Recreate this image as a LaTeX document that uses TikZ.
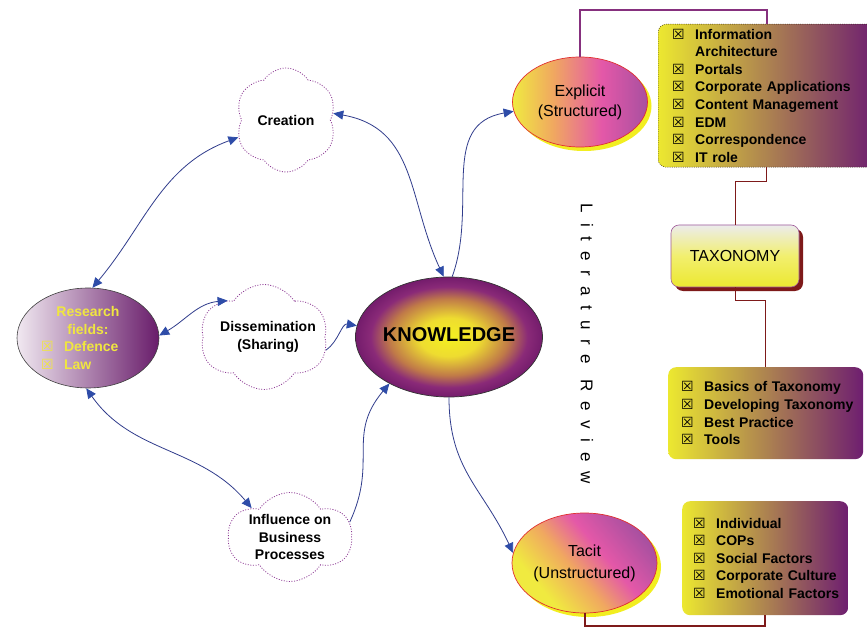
\documentclass[tikz,border=0pt]{standalone}
\usepackage{fontspec}
\setmainfont{Liberation Sans}
\newfontfamily\symf{DejaVu Sans}
\usetikzlibrary{shapes.geometric,shapes.symbols,arrows.meta,shadows,calc}
\definecolor{ylw}{HTML}{ECE830}
\definecolor{prp}{HTML}{6E1E70}
\definecolor{shy}{HTML}{F2EE20}
\definecolor{redb}{HTML}{E03030}
\definecolor{pline}{HTML}{86307E}
\definecolor{rline}{HTML}{7E1A1A}
\definecolor{ablue}{HTML}{2E4CA8}
\definecolor{lblue}{HTML}{303C8C}
\definecolor{cloudc}{HTML}{8E3C96}
\definecolor{ryel}{HTML}{F0E640}
\definecolor{ex1}{HTML}{F0EA40}
\definecolor{ex2}{HTML}{F0A860}
\definecolor{ex3}{HTML}{E458A8}
\definecolor{ex4}{HTML}{A850A0}
\definecolor{kn1}{HTML}{F4F020}
\definecolor{kn2}{HTML}{EEDC30}
\definecolor{kn3}{HTML}{C07A48}
\definecolor{kn4}{HTML}{8A2A78}
\definecolor{kn5}{HTML}{741C6C}
\pgfdeclarehorizontalshading{explsh}{100bp}{color(0bp)=(ex1); color(25bp)=(ex1); color(40bp)=(ex2); color(58bp)=(ex3); color(75bp)=(ex4); color(100bp)=(ex4)}
\pgfdeclarehorizontalshading{tacsh}{100bp}{color(0bp)=(ex1); color(30bp)=(ex1); color(45bp)=(ex2); color(58bp)=(ex3); color(75bp)=(ex4); color(100bp)=(ex4)}
\pgfdeclareradialshading{knowsh}{\pgfpoint{0bp}{0bp}}{color(0bp)=(kn1); color(8bp)=(kn2); color(16bp)=(kn3); color(21bp)=(kn4); color(25bp)=(kn5); color(50bp)=(kn5)}
\newcommand{\bx}{\makebox[23pt][l]{\symf\fontsize{14}{14}\selectfont ☒}}
\newcommand{\li}[1]{\mbox{\bx #1}}
\begin{document}
\begin{tikzpicture}[x=1pt,y=-1pt,
  listfont/.style={font=\fontsize{14}{17.6}\selectfont\bfseries},
  gradbox/.style={rounded corners=8pt, left color=ylw, right color=prp, inner sep=0pt, anchor=north west, listfont, align=left},
  ellnode/.style={ellipse, inner sep=0pt, draw=redb, line width=0.7pt, general shadow={shadow xshift=4pt, shadow yshift=-4pt, fill=shy}, align=center, font=\fontsize{16}{20}\selectfont},
  cloudnode/.style={cloud, cloud puffs=6, cloud puff arc=115, aspect=1, inner sep=0pt, draw=cloudc, dash pattern=on 1pt off 1.6pt, line width=0.8pt, fill=white},
  arr/.style={draw=lblue, line width=0.8pt, -{Triangle[length=10pt,width=9pt,color=ablue]}},
  barr/.style={draw=lblue, line width=0.8pt, {Triangle[length=10pt,width=9pt,color=ablue]}-{Triangle[length=10pt,width=9pt,color=ablue]}},
  pl/.style={draw=pline, line width=2pt},
  rl/.style={draw=rline, line width=1pt},
  tl/.style={draw=rline, line width=2pt}]
\useasboundingbox[fill=white] (0,0) rectangle (867,628);

\node[ellnode, minimum width=135pt, minimum height=90pt, shading=explsh] (expl) at (580,102) {Explicit\\(Structured)};
\node[ellnode, minimum width=145pt, minimum height=100pt, shading=tacsh, shading angle=40, font=\fontsize{16}{22}\selectfont] (tacit) at (584.5,563) {Tacit\\(Unstructured)};

\node[gradbox, draw=black!75!brown, dash pattern=on 1pt off 1.2pt, minimum width=217pt, minimum height=143pt, text width=189pt, inner xsep=14pt] (info) at (658,24)
 {\li{Information}\\\mbox{\hspace*{23pt}Architecture}\\\li{Portals}\\\li{Corporate Applications}\\\li{Content Management}\\\li{EDM}\\\li{Correspondence}\\\li{IT role}};

\node[rounded corners=8pt, minimum width=128pt, minimum height=62pt, top color=white!85!gray, bottom color=ylw, middle color=ylw!70!white, draw=pline!80, line width=0.6pt, general shadow={shadow xshift=4pt, shadow yshift=-4pt, fill=rline}, font=\fontsize{16}{20}\selectfont] (tax) at (735,256) {TAXONOMY};

\node[gradbox, minimum width=195pt, minimum height=92pt, text width=169pt, inner xsep=13pt] (basics) at (668,367)
 {\li{Basics of Taxonomy}\\\li{Developing Taxonomy}\\\li{Best Practice}\\\li{Tools}};

\node[gradbox, minimum width=166pt, minimum height=114pt, text width=144pt, inner xsep=11pt] (tb) at (682,501)
 {\li{Individual}\\\li{COPs}\\\li{Social Factors}\\\li{Corporate Culture}\\\li{Emotional Factors}};

\draw[pl] (expl.north) -- ++(0,-47) -| (info.north);
\draw[rl] (info.south) -- ++(0,14) -| (tax.north);
\draw[rl] (tax.south) -- ++(0,13) -| (basics.north);
\draw[tl] (tacit.south) -- ++(0,13) -| (tb.south);

\node[ellipse, inner sep=0pt, minimum width=142pt, minimum height=100pt, left color=white!90!prp, right color=prp!95!black, draw=black!75, line width=0.6pt, text=ryel, align=center, font=\fontsize{14}{17.5}\selectfont\bfseries] (res) at (88,338)
 {Research\\fields:\\\makebox[94pt][l]{\bx Defence}\\\makebox[94pt][l]{\bx Law}};

\node[ellipse, inner sep=0pt, minimum width=168pt, minimum height=120pt, shading=knowsh, draw=black!80, line width=0.7pt, font=\fontsize{20}{24}\selectfont\bfseries] (know) at (449,337) {\raisebox{4pt}{KNOWLEDGE}};

\node[cloudnode, minimum width=102pt, minimum height=104pt, label={[font=\fontsize{14}{17.6}\selectfont\bfseries]center:Creation}] (crea) at (286,120) {};
\node[cloudnode, minimum width=128pt, minimum height=105pt, label={[font=\fontsize{14}{17.6}\selectfont\bfseries, align=center, xshift=4pt]center:Dissemination\\(Sharing)}] (dis) at (264,337) {};
\node[cloudnode, minimum width=124pt, minimum height=89pt, label={[font=\fontsize{14}{17.6}\selectfont\bfseries, align=center]center:Influence on\\Business\\Processes}] (inf) at (290,537) {};

\node[rotate=-90, font=\fontsize{17}{20}\selectfont] (lit) at (587,344) {\addfontfeature{LetterSpace=58}Literature Review};

\draw[barr] (res.85) to[out=50, in=200] (crea.200);
\draw[barr] (crea.8) to[out=-10, in=115, looseness=1.1] (know.95);
\draw[barr] (res.2) to[out=30, in=185] (dis.135);
\draw[arr] (dis.-12) to[out=35, in=170] (know.173);
\draw[barr] (res.-92) to[out=-55, in=130] (inf.143);
\draw[arr] (inf.14) to[out=65, in=230, looseness=1.2] (know.218);
\draw[arr] (know.87) to[out=70, in=190, looseness=1.1] (expl.188);
\draw[arr] (know.-90) to[out=-90, in=115, looseness=1.1] (tacit.172);
\end{tikzpicture}
\end{document}
